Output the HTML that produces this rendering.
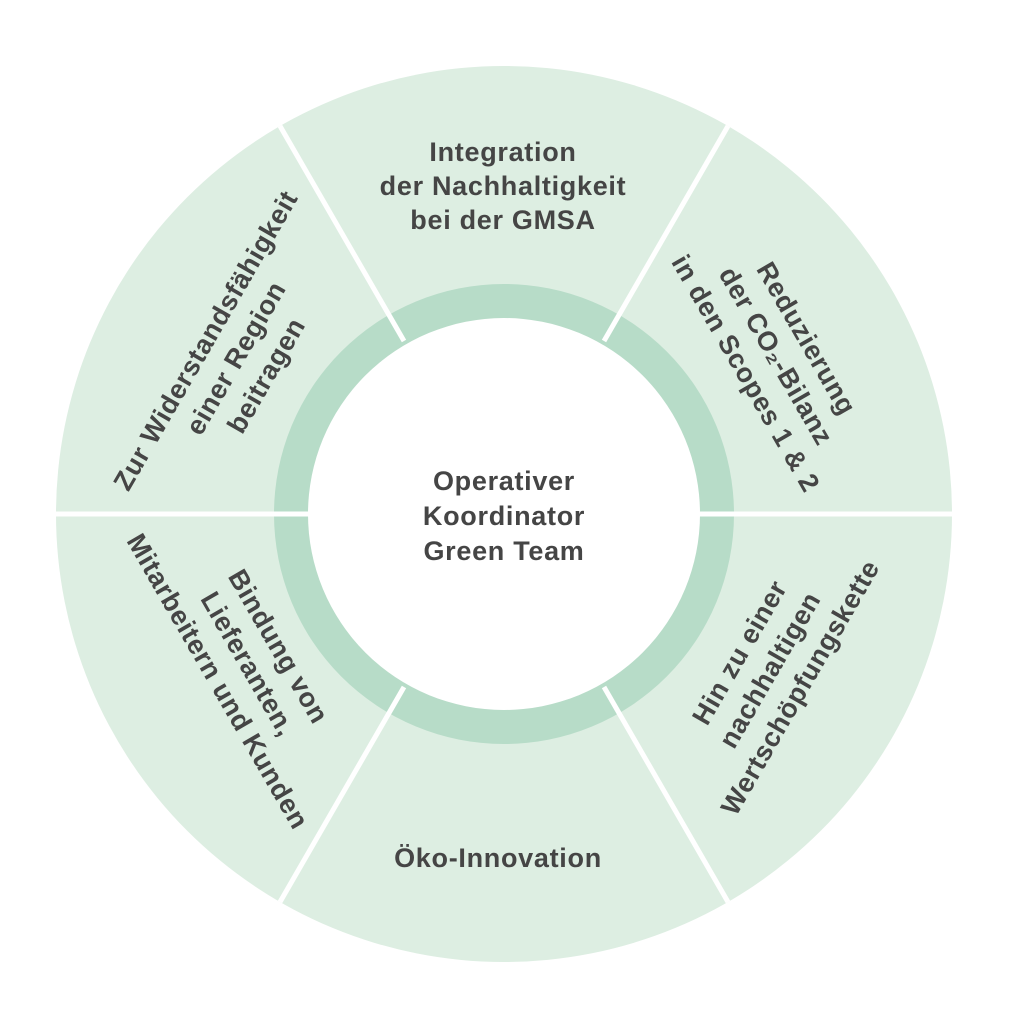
<!DOCTYPE html>
<html><head><meta charset="utf-8"><style>
html,body{margin:0;padding:0;background:#fff;}
svg{display:block;}
text{font-family:"Liberation Sans",sans-serif;font-weight:bold;fill:#454545;font-size:27px;letter-spacing:0.7px;text-anchor:middle;}
</style></head><body>
<svg width="1011" height="1024" viewBox="0 0 1011 1024">
<circle cx="504" cy="514" r="448" fill="#ddeee2"/>
<circle cx="504" cy="514" r="230" fill="#b7dcc8"/>
<g stroke="#fff" stroke-width="5">
<line x1="56" y1="514" x2="310" y2="514"/>
<line x1="698" y1="514" x2="952" y2="514"/>
<line x1="280" y1="126" x2="404" y2="341"/>
<line x1="728" y1="126" x2="604" y2="341"/>
<line x1="280" y1="902" x2="404" y2="687"/>
<line x1="728" y1="902" x2="604" y2="687"/>
</g>
<circle cx="504" cy="514" r="196" fill="#fff"/>
<g style="letter-spacing:1.3px">
<text x="504" y="490">Operativer</text>
<text x="504" y="525">Koordinator</text>
<text x="504" y="560">Green Team</text>
</g>
<text x="503" y="161">Integration</text>
<text x="503" y="195">der Nachhaltigkeit</text>
<text x="503" y="229">bei der GMSA</text>
<text x="498" y="867">Öko-Innovation</text>
<g transform="translate(776,356) rotate(60)">
<text x="0" y="-26">Reduzierung</text>
<text x="0" y="9">der CO₂-Bilanz</text>
<text x="0" y="44">in den Scopes 1 &amp; 2</text>
</g>
<g transform="translate(770,670) rotate(-60)">
<text x="0" y="-26">Hin zu einer</text>
<text x="0" y="9">nachhaltigen</text>
<text x="0" y="44">Wertschöpfungskette</text>
</g>
<g transform="translate(248,664) rotate(60)">
<text x="0" y="-26">Bindung von</text>
<text x="0" y="9">Lieferanten,</text>
<text x="0" y="44">Mitarbeitern und Kunden</text>
</g>
<g transform="translate(236,358) rotate(-60)">
<text x="0" y="-26">Zur Widerstandsfähigkeit</text>
<text x="0" y="9">einer Region</text>
<text x="0" y="44">beitragen</text>
</g>
</svg>
</body></html>
